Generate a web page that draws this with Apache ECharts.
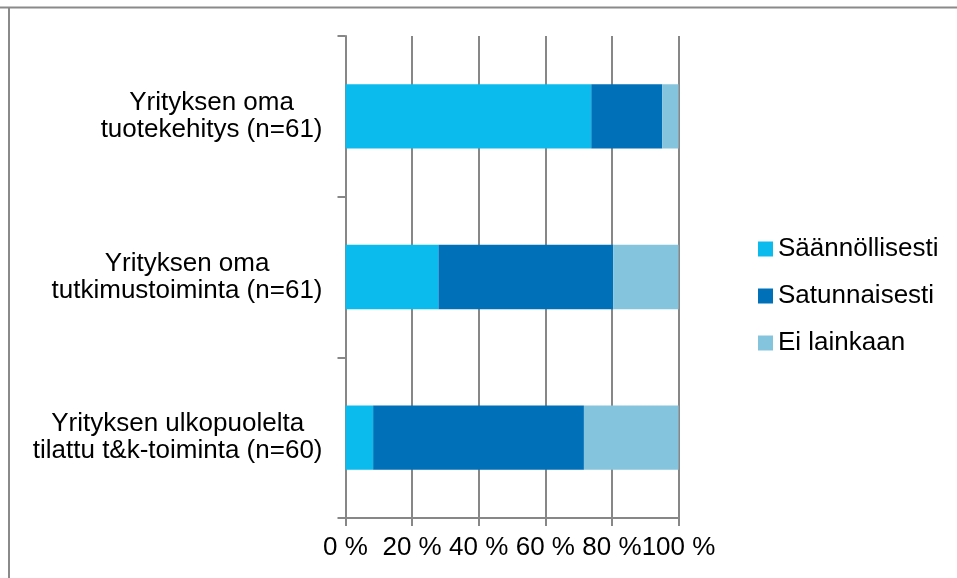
<!DOCTYPE html>
<html>
<head>
<meta charset="utf-8">
<script src="https://cdn.jsdelivr.net/npm/echarts@6/dist/echarts.min.js"></script>
<style>
html,body{margin:0;padding:0;background:#fff;}
#chart{width:957px;height:578px;}
</style>
</head>
<body>
<div id="chart"></div>
<script>
var categories = [
  "Yrityksen oma\ntuotekehitys (n=61)",
  "Yrityksen oma\ntutkimustoiminta (n=61)",
  "Yrityksen ulkopuolelta\ntilattu t&k-toiminta (n=60)"
];
var seriesNames = ["Säännöllisesti", "Satunnaisesti", "Ei lainkaan"];
var saannollisesti = [73.8, 27.9, 8.3];
var satunnaisesti = [21.3, 52.5, 63.3];
var eiLainkaan = [4.9, 19.7, 28.4];
var colors = ["#0cbbee", "#0070b8", "#84c4dc"];

var chart = echarts.init(document.getElementById('chart'));
var font = "'Liberation Sans', Arial, sans-serif";
var gray = '#878787';

function mk(name, data, color) {
  return {
    name: name, type: 'bar', stack: 'total', data: data,
    barCategoryGap: '60%',
    itemStyle: { color: color },
    emphasis: { disabled: true }
  };
}

chart.setOption({
  animation: false,
  textStyle: { fontFamily: font },
  grid: { left: 345.5, right: 278.5, top: 36, bottom: 60, containLabel: false },
  legend: {
    orient: 'vertical', left: 753, top: 231,
    icon: 'rect', itemWidth: 15, itemHeight: 15, itemGap: 21,
    textStyle: { fontFamily: font, fontSize: 26, color: '#000' },
    data: seriesNames
  },
  xAxis: {
    type: 'value', min: 0, max: 100, interval: 20,
    axisLine: { show: true, lineStyle: { color: gray, width: 2 } },
    axisTick: { show: true, length: 8, lineStyle: { color: gray, width: 2 } },
    splitLine: { show: true, lineStyle: { color: gray, width: 2 } },
    axisLabel: { formatter: '{value} %', fontFamily: font, fontSize: 26, color: '#000', margin: 17 }
  },
  yAxis: {
    type: 'category', inverse: true, data: categories,
    axisLine: { show: true, lineStyle: { color: gray, width: 2 } },
    axisTick: { show: true, length: 8, lineStyle: { color: gray, width: 2 } },
    axisLabel: {
      margin: 23, color: '#000', fontFamily: font, fontSize: 26,
      formatter: function (v) {
        return v.split('\n').map(function (l) { return '{c|' + l + '}'; }).join('\n');
      },
      rich: { c: { align: 'center', fontFamily: font, fontSize: 26, lineHeight: 27, color: '#000' } }
    }
  },
  graphic: [
    { type: 'line', shape: { x1: 0, y1: 7.5, x2: 957, y2: 7.5 }, style: { stroke: '#8a8a8a', lineWidth: 2 } },
    { type: 'line', shape: { x1: 9, y1: 7, x2: 9, y2: 578 }, style: { stroke: '#8a8a8a', lineWidth: 2 } }
  ],
  series: [
    mk(seriesNames[0], saannollisesti, colors[0]),
    mk(seriesNames[1], satunnaisesti, colors[1]),
    mk(seriesNames[2], eiLainkaan, colors[2])
  ]
});
</script>
</body>
</html>
